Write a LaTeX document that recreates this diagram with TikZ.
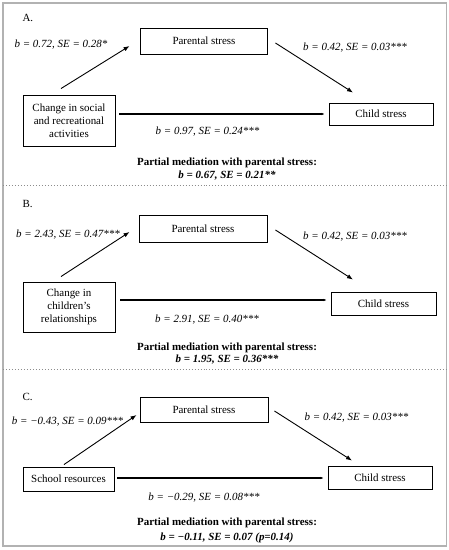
\documentclass[tikz,border=0pt]{standalone}
\usepackage{fontspec}
\setmainfont{Liberation Serif}
\usetikzlibrary{arrows.meta}
\newcommand{\diagfont}{\fontsize{11}{13}\selectfont}
\tikzset{
    box/.style={draw, line width=0.9bp, inner sep=0pt, align=center, font=\diagfont},
    arr/.style={line width=0.9bp, -{Latex[length=6bp, width=4.5bp]}},
    direct/.style={line width=2bp, -{Latex[length=3bp, width=2.5bp]}},
    coef/.style={font=\diagfont\itshape},
    med/.style={font=\diagfont\bfseries},
    medb/.style={font=\diagfont\bfseries\itshape},
}
\begin{document}
\begin{tikzpicture}[x=1bp, y=1bp, font=\diagfont]
        \useasboundingbox (0,0) rectangle (449,550);
        \draw[black!30, line width=1.3bp] (3,4) rectangle (446.5,547);
        \draw[black!45, dotted, line width=1bp] (3,364) -- (449,364);
        \draw[black!45, dotted, line width=1bp] (3,180) -- (449,180);

        % A
        \node[anchor=west] (tagA) at (19,532) {A.};
        \node[box, minimum width=127bp, minimum height=26bp] (parA) at (204,509) {Parental stress};
        \node[box, minimum width=92bp, minimum height=51bp] (actA) at (69,429.5) {Change in social\\and recreational\\activities};
        \node[box, minimum width=104bp, minimum height=22bp] (childA) at (381,436) {Child stress};
        \draw[arr] ([shift={(-8,6)}]actA.north) -- ([shift={(-10.5,-5)}]parA.west);
        \draw[arr] ([shift={(7.5,-2)}]parA.east) -- ([shift={(-28,10)}]childA.north);
        \draw[direct, shorten <=4bp, shorten >=4bp] (actA.east |- childA.west) -- (childA.west);
        \node[coef] (bA1) at (61,505) {b = 0.72, SE = 0.28*};
        \node[coef] (bA2) at (355,502) {b = 0.42, SE = 0.03***};
        \node[coef] (bA3) at (207.5,418) {b = 0.97, SE = 0.24***};
        \node[med] (medA) at (227,387) {Partial mediation with parental stress:};
        \node[medb] (medbA) at (227,374) {b = 0.67, SE = 0.21**};

        % B
        \node[anchor=west] (tagB) at (19,346) {B.};
        \node[box, minimum width=128bp, minimum height=27bp] (parB) at (203,321.5) {Parental stress};
        \node[box, minimum width=92bp, minimum height=50bp] (actB) at (69,243) {Change in\\children’s\\relationships};
        \node[box, minimum width=105bp, minimum height=23bp] (childB) at (383.5,246.5) {Child stress};
        \coordinate (lnB) at ([yshift=3.5bp]childB.west);
        \draw[arr] ([shift={(-8,5)}]actB.north) -- ([shift={(-9,-3.5)}]parB.west);
        \draw[arr] ([shift={(8,-1.5)}]parB.east) -- ([shift={(-30.5,12)}]childB.north);
        \draw[direct, shorten <=5bp, shorten >=4bp] (actB.east |- lnB) -- (lnB);
        \node[coef] (bB1) at (68,315) {b = 2.43, SE = 0.47***};
        \node[coef] (bB2) at (355,313) {b = 0.42, SE = 0.03***};
        \node[coef] (bB3) at (207,230) {b = 2.91, SE = 0.40***};
        \node[med] (medB) at (227,202) {Partial mediation with parental stress:};
        \node[medb] (medbB) at (227,190) {b = 1.95, SE = 0.36***};

        % C
        \node[anchor=west] (tagC) at (19,153) {C.};
        \node[box, minimum width=128bp, minimum height=25bp] (parC) at (204,140.5) {Parental stress};
        \node[box, minimum width=91bp, minimum height=24bp] (actC) at (68.5,71) {School resources};
        \node[box, minimum width=104bp, minimum height=23bp] (childC) at (380,72.5) {Child stress};
        \coordinate (lnC) at ([yshift=-0.5bp]childC.west);
        \draw[arr] ([shift={(-4.5,2)}]actC.north) -- ([shift={(-3,-5.5)}]parC.west);
        \draw[arr] ([shift={(6,-1.5)}]parC.east) -- ([shift={(-28,5)}]childC.north);
        \draw[direct, shorten <=3bp, shorten >=4bp] (actC.east |- lnC) -- (lnC);
        \node[coef] (bC1) at (67.5,128) {b = −0.43, SE = 0.09***};
        \node[coef] (bC2) at (356.5,132) {b = 0.42, SE = 0.03***};
        \node[coef] (bC3) at (204,52) {b = −0.29, SE = 0.08***};
        \node[med] (medC) at (227,27) {Partial mediation with parental stress:};
        \node[medb] (medbC) at (227,12) {b = −0.11, SE = 0.07 (p=0.14)};
    \end{tikzpicture}
\end{document}
